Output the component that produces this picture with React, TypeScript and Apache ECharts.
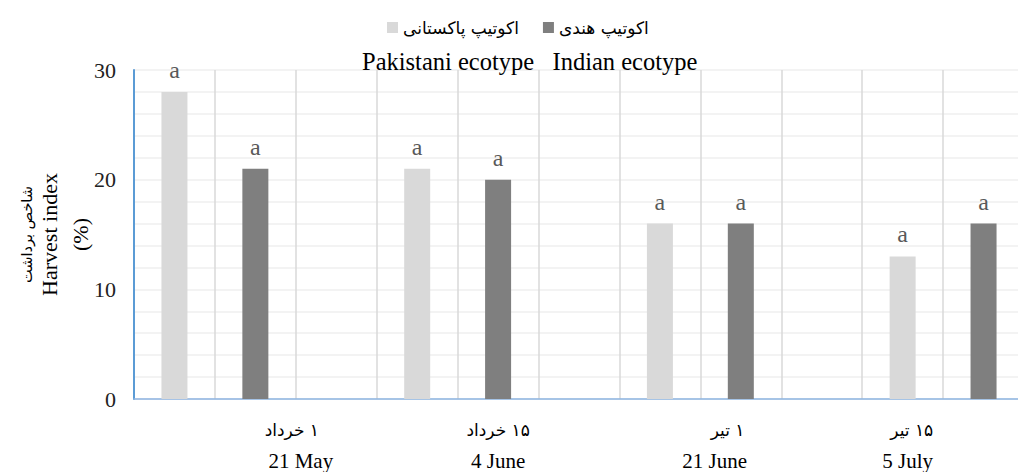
import React, { useEffect, useRef } from "react";
import * as echarts from "echarts";

// ---- data ----
const seriesNames = ["اکوتیپ پاکستانی", "اکوتیپ هندی"];
const englishTitle = "Pakistani ecotype   Indian ecotype";
const persianDates = ["۱ خرداد", "۱۵ خرداد", "۱ تیر", "۱۵ تیر"];
const englishDates = ["21 May", "4 June", "21 June", "5 July"];
const pakistaniValues = [28, 21, 16, 13];
const indianValues = [21, 20, 16, 16];
const pakistaniLetters = ["a", "a", "a", "a"];
const indianLetters = ["a", "a", "a", "a"];
const yTicks = [0, 10, 20, 30];

// layout constants (slot positions on the category axis, small text nudges in px)
const slotCount = 11;
const pakistaniSlots = [0, 3, 6, 9];
const indianSlots = [1, 4, 7, 10];
const dateLabelSlots = [2.0, 4.5, 7.25, 9.6];
const faNudge = [-4, 0, 7, 1];
const enNudge = [5, 0, -6, -3];

const PAK_COLOR = "#d9d9d9";
const IND_COLOR = "#7f7f7f";
const SERIF = "'Liberation Serif', 'Times New Roman', serif";
const FA = "'DejaVu Sans', 'Noto Sans', sans-serif";
const RLM = "\u200F";

function buildSlots(values: number[], slots: number[], letters: string[]) {
  const arr: any[] = new Array(slotCount).fill(null);
  values.forEach((v, i) => {
    arr[slots[i]] = {
      value: v,
      label: { show: true, formatter: letters[i] },
    };
  });
  return arr;
}

function nudgePadding(s: number) {
  return s >= 0 ? [0, 0, 0, 2 * s] : [0, -2 * s, 0, 0];
}

export default function App() {
  const ref = useRef<HTMLDivElement>(null);

  useEffect(() => {
    document.body.style.margin = "0";
    const chart = echarts.init(ref.current!, null, { renderer: "svg" });
    const categories = Array.from({ length: slotCount }, (_, i) => String(i));

    const labelStyle = {
      position: "top",
      distance: 10,
      color: "#595959",
      fontFamily: SERIF,
      fontSize: 24,
    };

    const dateRich: any = {};
    dateLabelSlots.forEach((_, i) => {
      dateRich["fa" + i] = {
        fontFamily: FA,
        fontSize: 17,
        color: "#000",
        lineHeight: 48,
        align: "center",
        padding: nudgePadding(faNudge[i]),
      };
      dateRich["en" + i] = {
        fontFamily: SERIF,
        fontSize: 21,
        color: "#000",
        lineHeight: 14,
        align: "center",
        padding: nudgePadding(enNudge[i]),
      };
    });

    chart.setOption({
      animation: false,
      backgroundColor: "#ffffff",
      title: {
        text: englishTitle,
        left: 357,
        top: 44,
        textStyle: { fontFamily: SERIF, fontSize: 24.5, fontWeight: "normal", color: "#000" },
      },
      legend: {
        left: 382,
        top: 14,
        itemWidth: 11,
        itemHeight: 11,
        itemGap: 24,
        icon: "rect",
        textStyle: { fontFamily: FA, fontSize: 17, color: "#000" },
        data: seriesNames,
      },
      grid: {
        left: 134,
        right: -6,
        top: 70,
        bottom: 73,
        containLabel: false,
        outerBoundsMode: "none",
      },
      xAxis: [
        {
          type: "category",
          data: categories,
          boundaryGap: true,
          axisLine: { show: true, lineStyle: { color: "#8db4e2", width: 1.5 } },
          axisTick: { show: false },
          axisLabel: { show: false },
          splitLine: { show: true, lineStyle: { color: "#d9d9d9", width: 1.5 } },
        },
        {
          type: "value",
          position: "bottom",
          min: 0,
          max: slotCount,
          axisLine: { show: false },
          axisTick: { show: false },
          splitLine: { show: false },
          axisLabel: {
            show: true,
            customValues: dateLabelSlots,
            margin: 7,
            formatter: (v: number) => {
              const i = dateLabelSlots.findIndex((p) => Math.abs(p - v) < 1e-6);
              if (i < 0) return "";
              return `{fa${i}|${RLM}${persianDates[i]}}\n{en${i}|${englishDates[i]}}`;
            },
            rich: dateRich,
          },
        },
      ],
      yAxis: {
        type: "value",
        min: 0,
        max: 30,
        interval: 2,
        axisLine: { show: true, lineStyle: { color: "#5b9bd5", width: 2 } },
        axisTick: { show: false },
        axisLabel: {
          margin: 18,
          fontFamily: SERIF,
          fontSize: 22,
          color: "#222",
          formatter: (v: number) => (yTicks.includes(v) ? String(v) : ""),
        },
        splitLine: { show: true, lineStyle: { color: "#efefef", width: 1.5 } },
        name: "{fa|شاخص برداشت}\n{en|Harvest index}\n{pc|(%)}",
        nameLocation: "middle",
        nameRotate: 90,
        nameGap: 36,
        nameMoveOverlap: false,
        nameTextStyle: {
          rich: {
            fa: { fontFamily: FA, fontSize: 14.5, color: "#000", lineHeight: 18 },
            en: { fontFamily: SERIF, fontSize: 22, color: "#000", lineHeight: 26 },
            pc: { fontFamily: SERIF, fontSize: 22, color: "#000", lineHeight: 36 },
          },
        },
      },
      series: [
        {
          name: seriesNames[0],
          type: "bar",
          xAxisIndex: 0,
          barWidth: 26,
          barGap: "-100%",
          itemStyle: { color: PAK_COLOR },
          label: labelStyle,
          data: buildSlots(pakistaniValues, pakistaniSlots, pakistaniLetters),
        },
        {
          name: seriesNames[1],
          type: "bar",
          xAxisIndex: 0,
          barWidth: 26,
          barGap: "-100%",
          itemStyle: { color: IND_COLOR },
          label: labelStyle,
          data: buildSlots(indianValues, indianSlots, indianLetters),
        },
      ],
    });

    return () => chart.dispose();
  }, []);

  return <div ref={ref} style={{ width: 1018, height: 472 }} />;
}
